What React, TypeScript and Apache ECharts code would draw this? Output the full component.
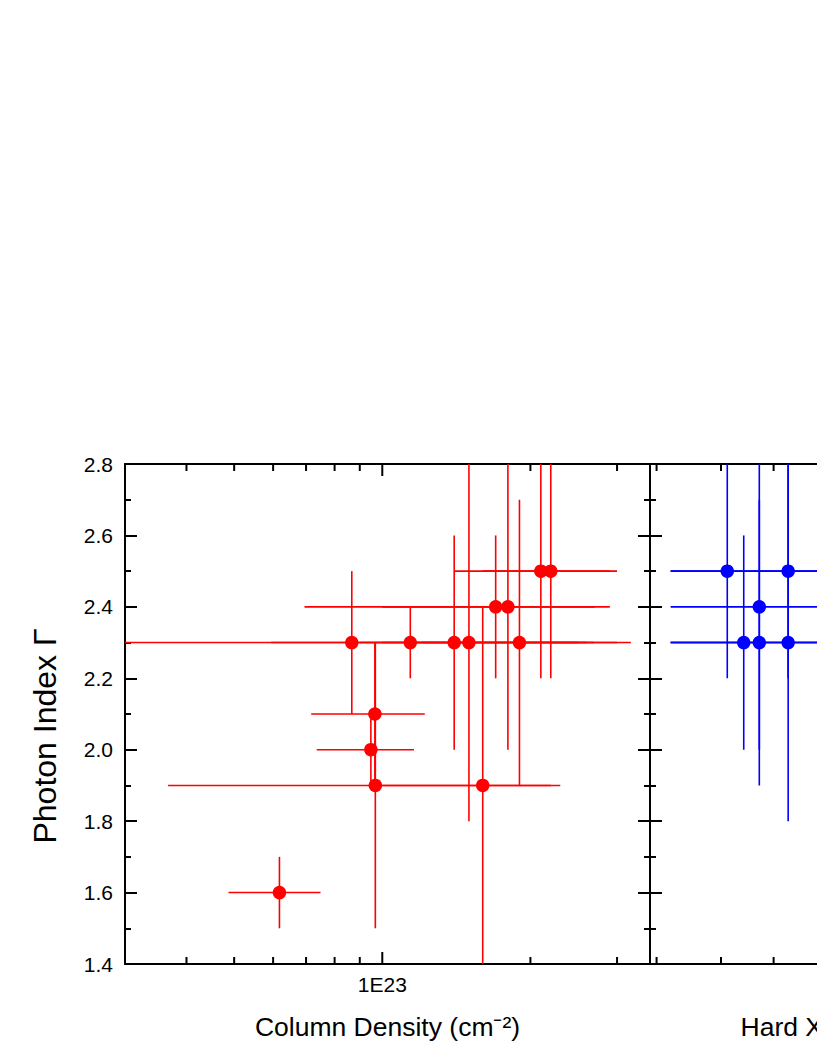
import React, { useEffect, useRef } from "react";
import * as echarts from "echarts";

// ---- Left panel: column density vs photon index (red) ----
const redNH = [6.18e22, 8.67e22, 1.14e23, 1.40e23, 1.50e23, 1.90e23, 9.66e22, 9.48e22, 9.68e22, 1.60e23, 1.70e23, 1.80e23, 2.10e23, 2.20e23];
const redGamma = [1.6, 2.3, 2.3, 2.3, 2.3, 2.3, 2.1, 2.0, 1.9, 1.9, 2.4, 2.4, 2.5, 2.5];
const redNHLow = [4.87e22, 5.95e22, 2.5e22, 9.0e22, 1.0e23, 1.2e23, 7.17e22, 7.36e22, 3.67e22, 1.0e23, 6.95e22, 1.0e23, 1.40e23, 1.6e23];
const redNHHigh = [7.49e22, 2.69e23, 3.2e23, 2.5e23, 2.6e23, 3.0e23, 1.22e23, 1.16e23, 2.30e23, 2.2e23, 2.90e23, 2.7e23, 3.00e23, 2.9e23];
const redGammaLow = [1.5, 2.1, 2.2, 2.0, 1.8, 1.9, 1.9, 1.9, 1.5, 1.3, 2.2, 2.0, 2.2, 2.2];
const redGammaHigh = [1.7, 2.5, 2.4, 2.6, 3.0, 2.7, 2.3, 2.1, 2.3, 2.4, 2.6, 3.0, 3.0, 3.0];

// ---- Right panel: hard X-ray luminosity vs photon index (blue) ----
const blueLX = [5.11e42, 5.41e42, 5.71e42, 5.71e42, 6.31e42, 6.31e42];
const blueGamma = [2.5, 2.3, 2.4, 2.3, 2.5, 2.3];
const blueLXLow = [4.2e42, 4.2e42, 4.2e42, 4.2e42, 4.2e42, 4.2e42];
const blueLXHigh = [1.2e43, 1.0e43, 1.1e43, 9.0e42, 1.3e43, 1.2e43];
const blueGammaLow = [2.2, 2.0, 2.0, 1.9, 2.2, 1.8];
const blueGammaHigh = [3.0, 2.6, 3.0, 2.7, 3.0, 2.9];

// ---- Axes ----
const nhMin = 3e22;
const nhMax = 3.5e23;
const lxMin = 3.91e42;
const lxMax = 2.41e43;
const gammaMin = 1.4;
const gammaMax = 2.8;
const gammaStep = 0.2;
const nhMinorTicks = [4e22, 5e22, 6e22, 7e22, 8e22, 9e22, 2e23, 3e23];
const nhMajorTicks = [1e23];
const lxMinorTicks = [4e42, 5e42, 6e42, 7e42, 8e42, 9e42, 2e43];
const lxMajorTicks = [1e43];

const FONT = '"Liberation Sans", Arial, Helvetica, sans-serif';
const BLACK = "#000000";
const RED = "#ff0000";
const BLUE = "#0000ff";

const logLabel = (v: number) => {
  const e = Math.log10(v);
  if (Math.abs(e - Math.round(e)) < 1e-6) return "1E" + Math.round(e);
  return "";
};

function tickSeries(gi: number, minor: number[], major: number[]) {
  const data = [...minor.map((v) => [v, 0]), ...major.map((v) => [v, 1])];
  return {
    type: "custom",
    xAxisIndex: gi * 2,
    yAxisIndex: gi * 2,
    silent: true,
    clip: false,
    z: 5,
    data,
    renderItem: (params: any, api: any) => {
      const v = api.value(0);
      const len = api.value(1) === 1 ? 12 : 7;
      const b = api.coord([v, gammaMin]);
      const t = api.coord([v, gammaMax]);
      const style = { stroke: BLACK, lineWidth: 2 };
      return {
        type: "group",
        children: [
          { type: "line", shape: { x1: b[0], y1: b[1], x2: b[0], y2: b[1] - len }, style },
          { type: "line", shape: { x1: t[0], y1: t[1], x2: t[0], y2: t[1] + len }, style },
        ],
      };
    },
  };
}

function errorSeries(gi: number, xs: number[], ys: number[], xl: number[], xh: number[], yl: number[], yh: number[], color: string) {
  const data = xs.map((x, i) => [x, ys[i], xl[i], xh[i], yl[i], yh[i]]);
  return {
    type: "custom",
    xAxisIndex: gi * 2,
    yAxisIndex: gi * 2,
    silent: true,
    clip: true,
    z: 3,
    encode: { x: [0, 2, 3], y: [1, 4, 5] },
    data,
    renderItem: (params: any, api: any) => {
      const x = api.value(0);
      const y = api.value(1);
      const a = api.coord([api.value(2), y]);
      const b = api.coord([api.value(3), y]);
      const c = api.coord([x, api.value(4)]);
      const d = api.coord([x, api.value(5)]);
      const style = { stroke: color, lineWidth: 1.6 };
      return {
        type: "group",
        children: [
          { type: "line", shape: { x1: a[0], y1: a[1], x2: b[0], y2: b[1] }, style },
          { type: "line", shape: { x1: c[0], y1: c[1], x2: d[0], y2: d[1] }, style },
        ],
      };
    },
  };
}

function xAxisDef(gi: number, pos: string, min: number, max: number, name?: string, labels?: boolean, namePad?: number[]) {
  return {
    type: "log",
    logBase: 10,
    gridIndex: gi,
    position: pos,
    min,
    max,
    axisLine: { show: true, onZero: false, lineStyle: { color: BLACK, width: 2 } },
    axisTick: { show: false },
    minorTick: { show: false },
    splitLine: { show: false },
    minorSplitLine: { show: false },
    axisLabel: {
      show: !!labels,
      formatter: logLabel,
      fontSize: 21,
      color: BLACK,
      fontFamily: FONT,
      margin: 10,
    },
    name: name || "",
    nameLocation: "middle",
    nameGap: 49,
    nameTextStyle: { fontSize: 26.5, color: BLACK, fontFamily: FONT, padding: namePad || 0 },
  };
}

function yAxisDef(gi: number, pos: string, labels: boolean, name?: string) {
  return {
    type: "value",
    gridIndex: gi,
    position: pos,
    min: gammaMin,
    max: gammaMax,
    interval: gammaStep,
    axisLine: { show: true, onZero: false, lineStyle: { color: BLACK, width: 2 } },
    axisTick: { show: true, inside: true, length: 12, lineStyle: { color: BLACK, width: 2 } },
    minorTick: { show: true, splitNumber: 2, length: 6, lineStyle: { color: BLACK, width: 2 } },
    splitLine: { show: false },
    minorSplitLine: { show: false },
    axisLabel: {
      show: labels,
      formatter: (v: number) => v.toFixed(1),
      fontSize: 21,
      color: BLACK,
      fontFamily: FONT,
      margin: 12,
    },
    name: name || "",
    nameLocation: "middle",
    nameGap: 64,
    nameTextStyle: { fontSize: 32, color: BLACK, fontFamily: FONT, padding: [0, 44, 0, 0] },
  };
}

export default function App() {
  const ref = useRef<HTMLDivElement>(null);
  useEffect(() => {
    if (!ref.current) return;
    const chart = echarts.init(ref.current, undefined, { renderer: "svg" });
    const option: any = {
      animation: false,
      backgroundColor: "#ffffff",
      grid: [
        { left: 125, top: 464, width: 525, height: 500, containLabel: false, outerBoundsMode: "none" },
        { left: 650, top: 464, width: 525, height: 500, containLabel: false, outerBoundsMode: "none" },
      ],
      xAxis: [
        xAxisDef(0, "bottom", nhMin, nhMax, "Column Density (cm\u207B\u00B2)", true),
        xAxisDef(0, "top", nhMin, nhMax),
        xAxisDef(1, "bottom", lxMin, lxMax, "Hard X-ray Luminosity (erg s\u207B\u00B9)", false, [0, 0, 0, 20]),
        xAxisDef(1, "top", lxMin, lxMax),
      ],
      yAxis: [
        yAxisDef(0, "left", true, "Photon Index \u0393"),
        yAxisDef(0, "right", false),
        yAxisDef(1, "left", false),
        yAxisDef(1, "right", false),
      ],
      series: [
        tickSeries(0, nhMinorTicks, nhMajorTicks),
        tickSeries(1, lxMinorTicks, lxMajorTicks),
        errorSeries(0, redNH, redGamma, redNHLow, redNHHigh, redGammaLow, redGammaHigh, RED),
        errorSeries(1, blueLX, blueGamma, blueLXLow, blueLXHigh, blueGammaLow, blueGammaHigh, BLUE),
        {
          type: "scatter",
          xAxisIndex: 0,
          yAxisIndex: 0,
          symbol: "circle",
          symbolSize: 13.5,
          itemStyle: { color: RED, opacity: 1 },
          z: 4,
          data: redNH.map((x, i) => [x, redGamma[i]]),
        },
        {
          type: "scatter",
          xAxisIndex: 2,
          yAxisIndex: 2,
          symbol: "circle",
          symbolSize: 13.5,
          itemStyle: { color: BLUE, opacity: 1 },
          z: 4,
          data: blueLX.map((x, i) => [x, blueGamma[i]]),
        },
      ],
    };
    chart.setOption(option);
    return () => chart.dispose();
  }, []);
  return (
    <div
      ref={ref}
      style={{ position: "absolute", left: 0, top: 0, width: 817, height: 1058, background: "#fff" }}
    />
  );
}
